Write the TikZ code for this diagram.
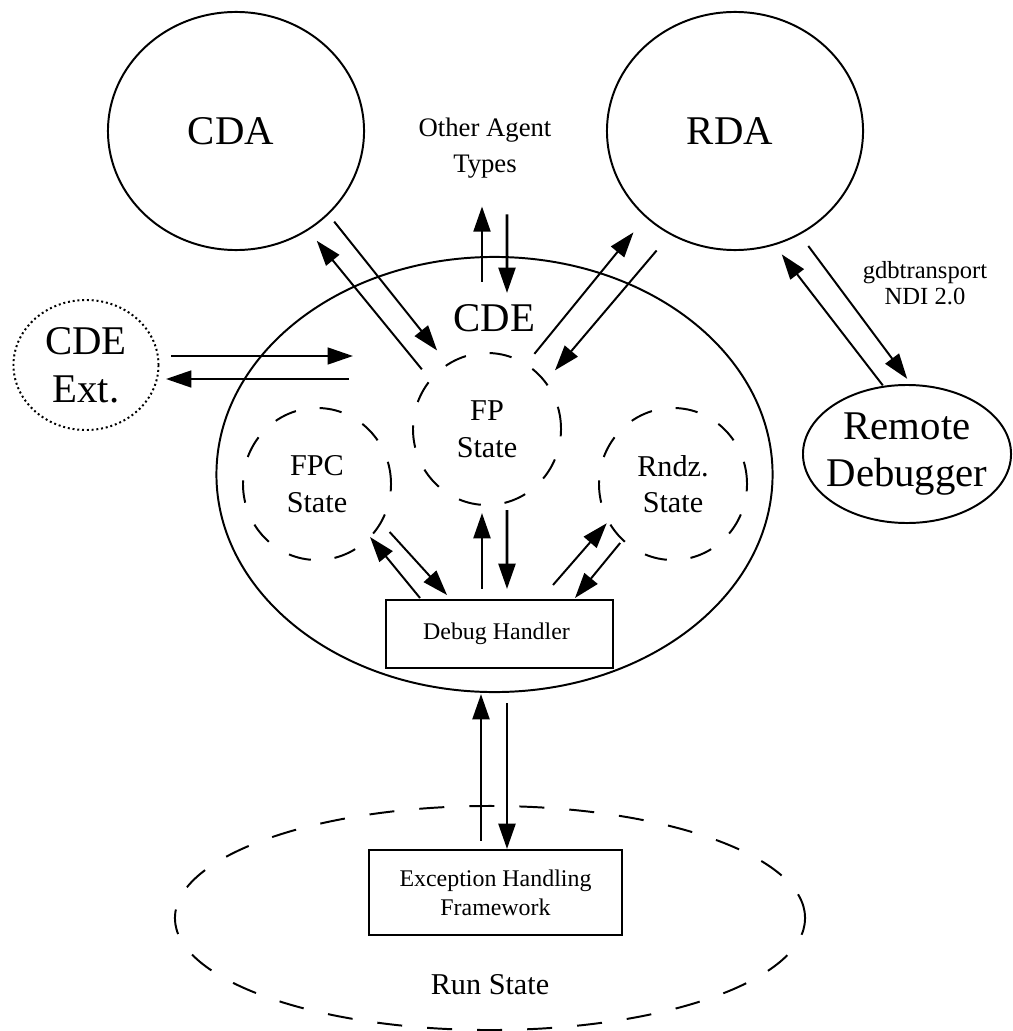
\documentclass[tikz,border=0pt]{standalone}
\usepackage{fontspec}
\setmainfont{Liberation Serif}
\usepackage{tikz}
\usetikzlibrary{positioning,shapes.geometric,arrows.meta}

\newcommand\fntbig{\fontsize{29}{34}\selectfont}
\newcommand\fntmid{\fontsize{21.5}{26}\selectfont}
\newcommand\fntsml{\fontsize{19}{25.6}\selectfont}
\newcommand\fntbox{\fontsize{17}{20.6}\selectfont}
\newcommand\fntnote{\fontsize{17.5}{18.5}\selectfont}

\begin{document}
\begin{tikzpicture}[x = 0.025cm, y = -0.025cm,
    agent/.style = { draw, shape = ellipse, line width = 1.4pt, inner sep = 0pt, outer sep = 0pt, align = center, font = \fntbig },
    substate/.style = { agent, dash pattern = on 16pt off 17pt, minimum width = 3.7cm, minimum height = 3.8cm, font = \fntmid },
    handler/.style = { draw, line width = 1.4pt, inner sep = 0pt, outer sep = 0pt, align = center, font = \fntbox },
    arr/.style = { -{Triangle[length = 18pt, width = 12pt]}, line width = 1.4pt },
    thick arr/.style = { arr, line width = 1.9pt }]
    \useasboundingbox (0,0) rectangle (1012,1031);

    \node [agent, minimum width = 6.4cm, minimum height = 5.95cm] (cda) at (236,131) { CDA };
    \node [agent, minimum width = 6.4cm, minimum height = 5.95cm] (rda) at (735,131) { RDA };
    \node [font = \fntsml, align = center, inner sep = 0pt] (other) at (485,148) { Other Agent\\ Types };
    \node [font = \fntnote, align = center, inner sep = 0pt] (gdb) at (925,283) { gdbtransport\\ NDI 2.0 };

    \node [agent, minimum width = 13.9cm, minimum height = 10.875cm,
           label = {[anchor = north, inner sep = 0pt, yshift = -1.175cm, font = \fntbig]north:CDE}] (cde) at (494.5,474.5) {};
    \node [agent, dotted, minimum width = 3.625cm, minimum height = 3.25cm] (ext) at (86,365) { CDE\\ Ext. };
    \node [agent, minimum width = 5.2cm, minimum height = 3.45cm,
           label = {[align = center, font = \fntbig]center:Remote\\ Debugger}] (rd) at (907,454) {};

    \node [substate] (fp) at (487,429) { FP\\ State };
    \node [substate] (fpc) at (317,484) { FPC\\ State };
    \node [substate] (rndz) at (673,484) { Rndz.\\ State };
    \node [handler, minimum width = 5.675cm, minimum height = 1.7cm] (dh) at (499.5,634) { Debug Handler };

    \node [agent, dash pattern = on 17.8pt off 17.8pt, minimum width = 15.75cm, minimum height = 5.6cm,
           label = {[anchor = south, inner sep = 0pt, yshift = 0.875cm, font = \fntmid]south:Run State}] (run) at (490,918) {};
    \node [handler, minimum width = 6.325cm, minimum height = 2.125cm] (ehf) at (495.5,892.5) { Exception Handling\\ Framework };

    \draw [arr, shorten <= 7.1pt, shorten >= 12.6pt] (cda.-42.9) -- (fp.121);
    \draw [arr, shorten <= 9.7pt, shorten >= 10.2pt] (fp.139.1) -- (cda.-54.6);
    \draw [arr, shorten <= 9.6pt, shorten >= 14.3pt] (fp.59.7) -- (rda.224.7);
    \draw [arr, shorten <= 15.5pt, shorten >= 10.8pt] (rda.-122.5) -- (fp.39.2);
    \draw [thick arr] ([shift = {(-12.5,25)}]cde.north) -- ([shift = {(-3,28)}]other.south);
    \draw [thick arr] ([shift = {(22,36)}]other.south) -- ([shift = {(12.5,36)}]cde.north);
    \draw [arr] ([shift = {(12.5,-9)}]ext.east) -- ([shift = {(136.5,-118.5)}]cde.west);
    \draw [arr] ([shift = {(132.5,-95.5)}]cde.west) -- ([shift = {(7.5,14)}]ext.east);
    \draw [arr] ([shift = {(-79.5,-2)}]dh.north) -- (fpc.-45.5);
    \draw [arr, shorten <= 9.2pt] (fpc.-31.5) -- ([shift = {(-52.5,-5)}]dh.north);
    \draw [thick arr] ([shift = {(-17.5,-11)}]dh.north) -- ([shift = {(-5,8)}]fp.south);
    \draw [thick arr] ([shift = {(20,5)}]fp.south) -- ([shift = {(7.5,-11)}]dh.north);
    \draw [arr, shorten >= 1.9pt] ([shift = {(53.5,-15)}]dh.north) -- (rndz.210.6);
    \draw [arr, shorten <= 2.9pt] (rndz.-132.4) -- ([shift = {(75.5,-2)}]dh.north);
    \draw [thick arr] ([shift = {(-14.5,-9)}]ehf.north) -- ([shift = {(-13.5,2)}]cde.south);
    \draw [thick arr] ([shift = {(12.5,11)}]cde.south) -- ([shift = {(11.5,-1)}]ehf.north);
    \draw [arr, shorten <= 1.2pt, shorten >= 9pt] (rd.109.2) -- (rda.-71.2);
    \draw [arr, shorten <= 10.7pt, shorten >= 5.5pt] (rda.-58.2) -- (rd.86.4);
\end{tikzpicture}
\end{document}
